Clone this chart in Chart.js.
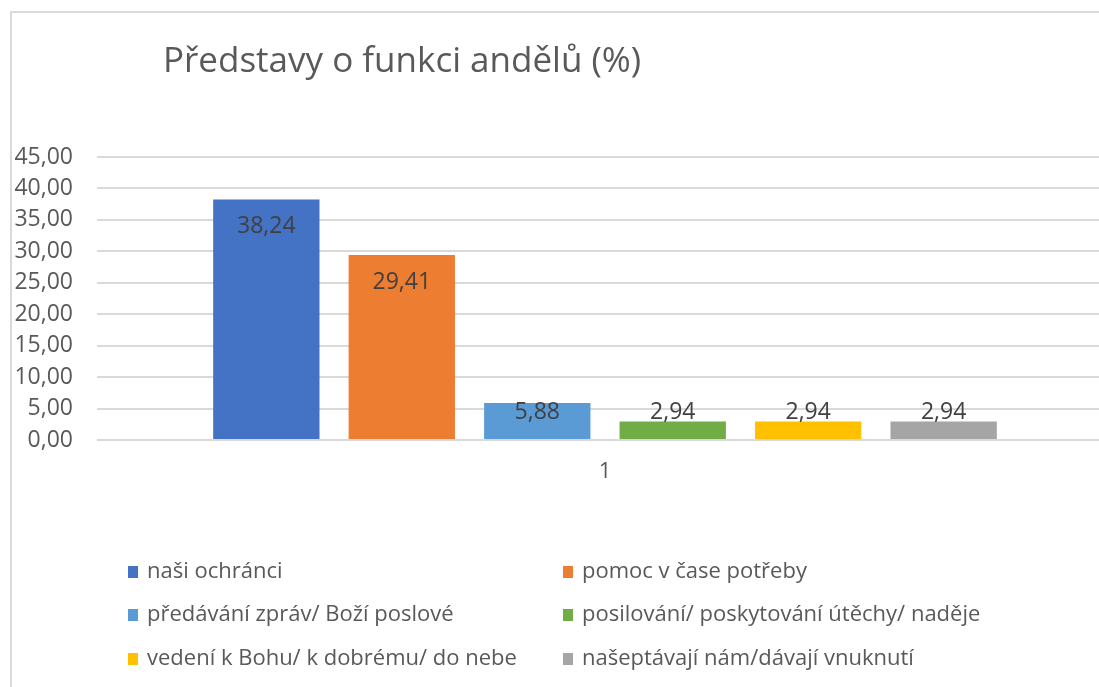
<!DOCTYPE html>
<html>
<head>
<meta charset="utf-8">
<script src="https://cdn.jsdelivr.net/npm/chart.js@4.4.1/dist/chart.umd.min.js"></script>
<style>
  html, body { margin: 0; padding: 0; background: #fff; overflow: hidden; width: 1099px; height: 687px; }
  #frame { position: absolute; left: 10px; top: 11px; width: 1200px; height: 800px; border: 2px solid #dadada; box-sizing: border-box; }
  #c { position: absolute; left: 0; top: 0; }
</style>
</head>
<body>
<div id="frame"></div>
<canvas id="c" width="1130" height="687"></canvas>
<script>
// Data
const TITLE = "Představy o funkci andělů (%)";
const categories = ["1"];
const seriesNames = [
  "naši ochránci",
  "pomoc v čase potřeby",
  "předávání zpráv/ Boží poslové",
  "posilování/ poskytování útěchy/ naděje",
  "vedení k Bohu/ k dobrému/ do nebe",
  "našeptávají nám/dávají vnuknutí"
];
const seriesValues = [38.24, 29.41, 5.88, 2.94, 2.94, 2.94];
const seriesColors = ["#4472c4", "#ed7d31", "#5b9bd5", "#70ad47", "#ffc000", "#a5a5a5"];
const yTicks = [0, 5, 10, 15, 20, 25, 30, 35, 40, 45];

const FONT = "'Open Sans', 'Noto Sans', sans-serif";
const TEXT = "#595959";
const fmtComma = (v) => Number(v).toFixed(2).replace(".", ",");

// Title drawn at top left, Excel style
const titlePlugin = {
  id: "xlTitle",
  afterDraw(chart) {
    const ctx = chart.ctx;
    ctx.save();
    ctx.font = "35px " + FONT;
    ctx.fillStyle = TEXT;
    ctx.textAlign = "left";
    ctx.textBaseline = "middle";
    ctx.fillText(TITLE, 163, 62);
    ctx.restore();
  }
};

// Inside-end value labels, pushed up when the bar is too short
const labelPlugin = {
  id: "xlLabels",
  afterDatasetsDraw(chart) {
    const ctx = chart.ctx;
    ctx.save();
    ctx.font = "23px " + FONT;
    ctx.fillStyle = "#404040";
    ctx.textAlign = "center";
    ctx.textBaseline = "middle";
    chart.data.datasets.forEach((ds, i) => {
      chart.getDatasetMeta(i).data.forEach((bar, j) => {
        const y = Math.min(bar.y + 27, bar.base - 27);
        ctx.fillText(fmtComma(ds.data[j]), bar.x, y);
      });
    });
    ctx.restore();
  }
};

// Two-column legend under the plot
const legendPlugin = {
  id: "xlLegend",
  afterDraw(chart) {
    const ctx = chart.ctx;
    const colX = [128, 563];
    const rowY = [572, 615, 659];
    ctx.save();
    ctx.font = "22px " + FONT;
    ctx.textAlign = "left";
    ctx.textBaseline = "middle";
    chart.data.datasets.forEach((ds, i) => {
      const x = colX[i % 2];
      const y = rowY[Math.floor(i / 2)];
      ctx.fillStyle = ds.backgroundColor;
      ctx.fillRect(x, y - 6, 10, 12);
      ctx.fillStyle = TEXT;
      ctx.fillText(ds.label, x + 19, y);
    });
    ctx.restore();
  }
};

const datasets = seriesNames.map((name, i) => ({
  label: name,
  data: [seriesValues[i]],
  backgroundColor: seriesColors[i],
  borderWidth: 0,
  categoryPercentage: 0.8,
  barPercentage: 0.785
}));

new Chart(document.getElementById("c"), {
  type: "bar",
  data: { labels: categories, datasets },
  options: {
    responsive: false,
    animation: false,
    layout: { padding: { top: 157, right: 17, left: 0, bottom: 0 } },
    plugins: { legend: { display: false }, title: { display: false }, tooltip: { enabled: false } },
    scales: {
      x: {
        grid: { display: false, drawTicks: false },
        border: { display: false },
        ticks: { color: TEXT, font: { size: 22, family: FONT }, padding: 19 },
        afterFit: (s) => { s.height = 247; }
      },
      y: {
        min: 0, max: 45,
        afterBuildTicks: (s) => { s.ticks = yTicks.map(v => ({ value: v })); },
        grid: { color: "#d9d9d9", lineWidth: 2, drawTicks: false },
        border: { display: false },
        ticks: { color: TEXT, font: { size: 23, family: FONT }, padding: 24, callback: (v) => fmtComma(v) },
        afterFit: (s) => { s.width = 97; }
      }
    }
  },
  plugins: [titlePlugin, labelPlugin, legendPlugin]
});
</script>
</body>
</html>
